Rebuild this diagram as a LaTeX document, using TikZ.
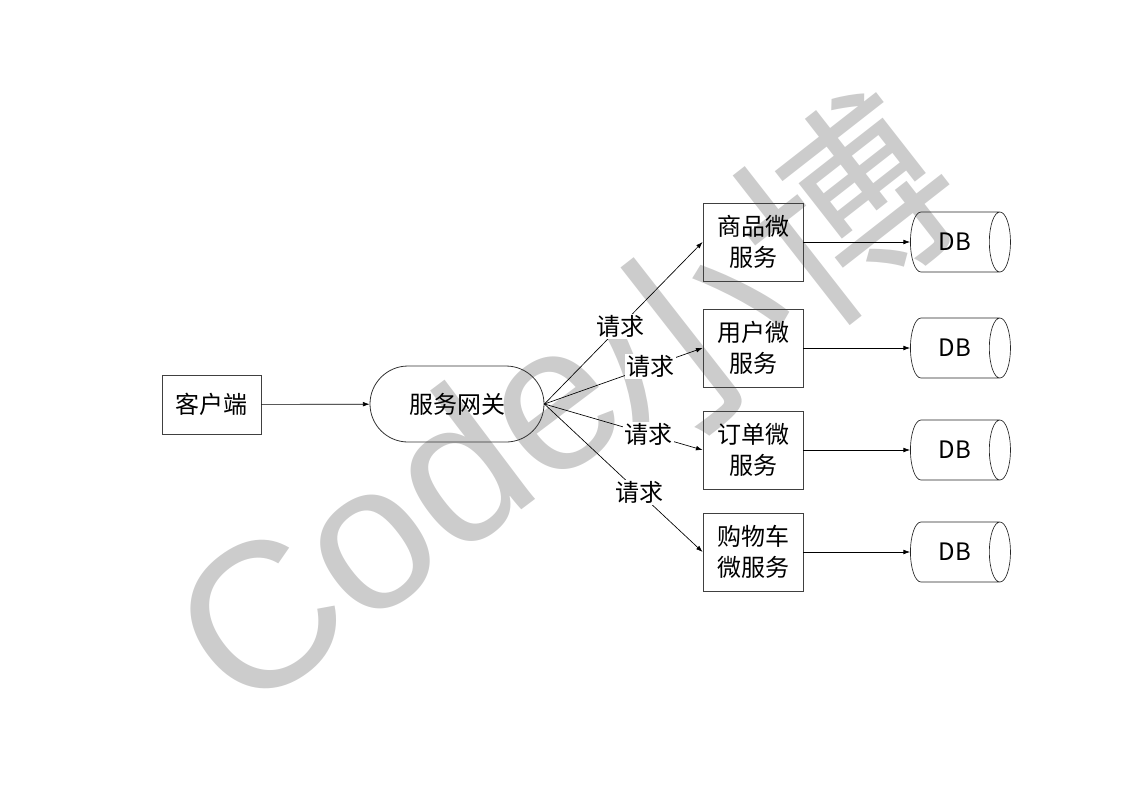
\documentclass[tikz,border=0pt]{standalone}
\usepackage{fontspec}
\setmainfont{Noto Sans CJK SC}
\newfontfamily\markfont{Liberation Sans}
\usetikzlibrary{arrows.meta,shapes.geometric,shapes.misc}

\begin{document}
\begin{tikzpicture}[x=0.75pt,y=-0.75pt]
    \tikzstyle{every node}+=[font=\fontsize{18}{23}\selectfont]
    \tikzstyle{box}=[draw=black!75,line width=0.6pt,minimum width=75pt,minimum height=58.5pt,align=center,inner sep=0pt]
    \tikzstyle{db}=[draw=black!85,line width=0.5pt,cylinder,aspect=1.2,minimum width=45pt,minimum height=75pt,inner sep=0pt]
    \tikzstyle{link}=[black,line width=0.5pt,-{Latex[length=5pt,width=3.5pt]}]
    \tikzstyle{req}=[fill=white,inner sep=1pt]
    \tikzstyle{wmark}=[text=black!20,inner sep=0pt]
    \useasboundingbox (0,0) rectangle (1123,794);
    % watermark
    \node[wmark,rotate=37,anchor=base west,font=\markfont\fontsize{155}{155}\selectfont] (markA) at (243,720) {Code};
    \node[wmark,rotate=38,font=\fontsize{155}{155}\selectfont] (markB) at (765,272) {小博};
    % client and gateway
    \node[box,minimum width=74.25pt,minimum height=44.25pt] (client) at (211.5,404.5) {客户端};
    \node[draw=black!80,line width=0.6pt,rounded rectangle,minimum width=130.5pt,minimum height=57pt,inner sep=0pt] (gw) at (457,404) {服务网关};
    \draw[link] (client) -- (gw);
    % services
    \node[box] (goods) at (753,242) {商品微\\服务};
    \node[box] (user) at (753,348) {用户微\\服务};
    \node[box] (order) at (753,450) {订单微\\服务};
    \node[box] (cart) at (753,552) {购物车\\微服务};
    \draw[link] (gw.east) -- node[req,pos=0.48] {请求} (goods.west);
    \draw[link] (gw.east) -- node[req,pos=0.67] {请求} (user.west);
    \draw[link] (gw.east) -- node[req,pos=0.66] {请求} (order.west);
    \draw[link] (gw.east) -- node[req,pos=0.6] {请求} (cart.west);
    % databases
    \node[db] (db1) at (955,242) {DB};
    \node[db] (db2) at (955,348) {DB};
    \node[db] (db3) at (955,450) {DB};
    \node[db] (db4) at (955,552) {DB};
    \draw[link] (goods) -- (db1);
    \draw[link] (user) -- (db2);
    \draw[link] (order) -- (db3);
    \draw[link] (cart) -- (db4);
\end{tikzpicture}
\end{document}
